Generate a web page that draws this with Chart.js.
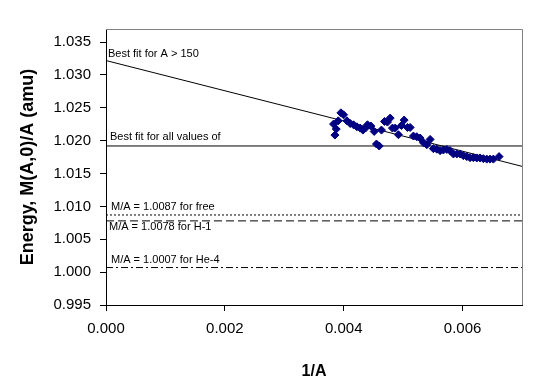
<!DOCTYPE html>
<html>
<head>
  <meta charset="UTF-8">
  <title>Mass per nucleon vs 1/A</title>
  <script src="https://cdn.jsdelivr.net/npm/chart.js"></script>
  <style>
    body {
      margin: 0;
      background: #fff;
    }
  </style>
</head>
<body>
  <canvas id="chart" width="560" height="392"></canvas>

  <script>
    // tick labels
    const xTicks = [0.000, 0.002, 0.004, 0.006];
    const yTicks = [0.995, 1.000, 1.005, 1.010, 1.015, 1.020, 1.025, 1.030, 1.035];

    // measured points: 1/A and M(A,0)/A
    const invA = [
      0.003829, 0.003852, 0.003874, 0.003908, 0.003953, 0.003997, 0.004054, 0.004109,
      0.004165, 0.004222, 0.004277, 0.004323, 0.004366, 0.004400, 0.004457, 0.004513,
      0.004551, 0.004597, 0.004635, 0.004686, 0.004736, 0.004782, 0.004820, 0.004866,
      0.004921, 0.004972, 0.005017, 0.005072, 0.005118, 0.005173, 0.005230, 0.005286,
      0.005341, 0.005398, 0.005454, 0.005509, 0.005567, 0.005622, 0.005677, 0.005735,
      0.005790, 0.005845, 0.005903, 0.005958, 0.006013, 0.006071, 0.006126, 0.006182,
      0.006239, 0.006294, 0.006350, 0.006407, 0.006462, 0.006518, 0.006614
    ];
    const massPerA = [
      1.02253, 1.02086, 1.02177, 1.02303, 1.02424, 1.02394, 1.02303, 1.02262,
      1.02242, 1.02212, 1.02192, 1.02162, 1.02192, 1.02242, 1.02223, 1.02141,
      1.01950, 1.01920, 1.02162, 1.02293, 1.02283, 1.02344, 1.02192, 1.02192,
      1.02091, 1.02232, 1.02314, 1.02202, 1.02202, 1.02071, 1.02061, 1.02041,
      1.01970, 1.01939, 1.02020, 1.01879, 1.01871, 1.01849, 1.01859, 1.01868,
      1.01849, 1.01799, 1.01799, 1.01799, 1.01773, 1.01758, 1.01742, 1.01742,
      1.01738, 1.01738, 1.01727, 1.01720, 1.01720, 1.01720, 1.01758
    ];

    // fit lines, evaluated at the two ends of the x range
    const fitEnds = [0, 0.007];
    const fitHeavy = [1.0322, 1.0161];   // best fit for A > 150
    const fitAll = 1.0192;               // best fit for all values
    const refLevels = [1.0087, 1.0078, 1.0007];
    const refNames = ['M/A = 1.0087 for free', 'M/A = 1.0078 for H-1', 'M/A = 1.0007 for He-4'];

    const lineDashes = [[2, 2], [8, 4], [7, 3, 2, 3]];

    const points = invA.map((x, i) => ({ x: x, y: massPerA[i] }));

    function flatLine(v) {
      return fitEnds.map(x => ({ x: x, y: v }));
    }

    const datasets = [
      {
        label: 'data',
        data: points,
        showLine: false,
        pointStyle: 'rectRot',
        pointRadius: 4,
        backgroundColor: '#000080',
        borderColor: '#000080',
        borderWidth: 1
      },
      {
        label: 'Best fit for A > 150',
        data: fitEnds.map((x, i) => ({ x: x, y: fitHeavy[i] })),
        showLine: true,
        pointRadius: 0,
        borderColor: '#000',
        borderWidth: 1
      },
      {
        label: 'Best fit for all values of',
        data: flatLine(fitAll),
        showLine: true,
        pointRadius: 0,
        borderColor: '#000',
        borderWidth: 1
      }
    ];
    refLevels.forEach((v, i) => {
      datasets.push({
        label: refNames[i],
        data: flatLine(v),
        showLine: true,
        pointRadius: 0,
        borderColor: '#000',
        borderWidth: 1,
        borderDash: lineDashes[i]
      });
    });

    // text next to the lines: [text, y value it sits on, pixel offset x, pixel offset y]
    const notes = [
      ['Best fit for A > 150', fitHeavy[0], 2, -7],
      ['Best fit for all values of', fitAll, 4, -9],
      [refNames[0], refLevels[0], 5, -8],
      [refNames[1], refLevels[1], 3, 6],
      [refNames[2], refLevels[2], 5, -8]
    ];

    const extras = {
      id: 'extras',
      beforeDraw(chart) {
        const ctx = chart.ctx;
        ctx.save();
        ctx.fillStyle = '#fff';
        ctx.fillRect(0, 0, chart.width, chart.height);
        ctx.restore();
      },
      afterDatasetsDraw(chart) {
        const ctx = chart.ctx;
        const a = chart.chartArea;
        const y = chart.scales.y;
        ctx.save();
        // grey frame on top and right
        ctx.strokeStyle = '#808080';
        ctx.lineWidth = 1;
        ctx.beginPath();
        ctx.moveTo(a.left, a.top + 0.5);
        ctx.lineTo(a.right + 0.5, a.top + 0.5);
        ctx.lineTo(a.right + 0.5, a.bottom);
        ctx.stroke();

        ctx.fillStyle = '#000';
        ctx.font = '11px "Liberation Sans", Arial, sans-serif';
        ctx.textBaseline = 'middle';
        ctx.textAlign = 'left';
        notes.forEach(n => {
          ctx.fillText(n[0], a.left + n[2], y.getPixelForValue(n[1]) + n[3]);
        });
        ctx.restore();
      }
    };

    const fontFamily = '"Liberation Sans", Arial, sans-serif';
    const tickFont = { family: fontFamily, size: 15 };

    new Chart(document.getElementById('chart'), {
      type: 'scatter',
      data: { datasets: datasets },
      options: {
        responsive: false,
        animation: false,
        layout: { padding: { top: 29, right: 38, left: 0, bottom: 0 } },
        plugins: {
          legend: { display: false },
          tooltip: { enabled: false }
        },
        scales: {
          x: {
            type: 'linear',
            min: 0,
            max: 0.007,
            afterBuildTicks: s => { s.ticks = xTicks.map(v => ({ value: v })); },
            afterFit: s => { s.height = 87; },
            grid: { drawOnChartArea: false, color: '#000', tickLength: 6 },
            border: { color: '#000', width: 1 },
            ticks: {
              color: '#000',
              font: tickFont,
              padding: 9,
              maxRotation: 0,
              callback: v => v.toFixed(3)
            },
            title: {
              display: true,
              text: '1/A',
              color: '#000',
              font: { family: fontFamily, size: 16, weight: 'bold' },
              padding: { top: 12, bottom: 11 }
            }
          },
          y: {
            type: 'linear',
            min: 0.995,
            max: 1.037,
            afterBuildTicks: s => { s.ticks = yTicks.map(v => ({ value: v })); },
            afterFit: s => { s.width = 106; },
            grid: { drawOnChartArea: false, color: '#000', tickLength: 6 },
            border: { color: '#000', width: 1 },
            ticks: {
              color: '#000',
              font: tickFont,
              padding: 9,
              callback: v => v.toFixed(3)
            },
            title: {
              display: true,
              text: 'Energy, M(A,0)/A (amu)',
              color: '#000',
              font: { family: fontFamily, size: 18, weight: 'bold' },
              padding: { top: 17 }
            }
          }
        }
      },
      plugins: [extras]
    });
  </script>
</body>
</html>
